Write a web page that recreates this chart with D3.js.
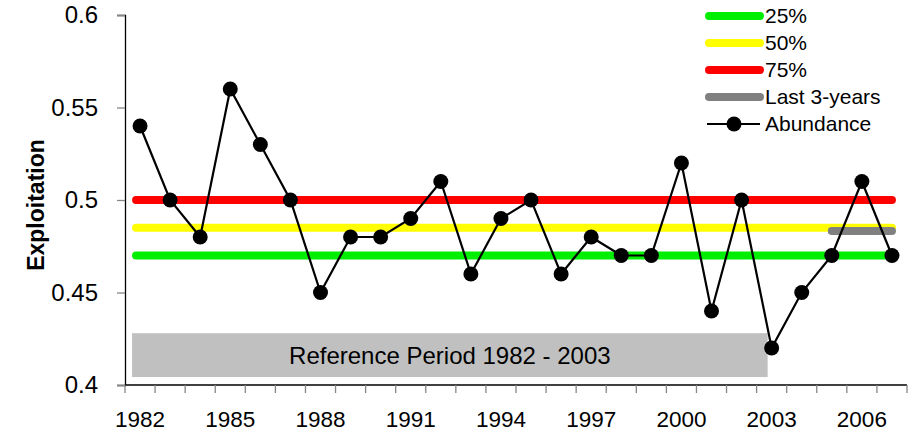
<!DOCTYPE html>
<html>
<head>
<meta charset="utf-8">
<script src="https://cdn.jsdelivr.net/npm/d3@7"></script>
<style>
  body { margin: 0; background: #fff; }
  svg text { font-family: "Liberation Sans", Arial, sans-serif; fill: #000; }
</style>
</head>
<body>
<div id="chart"></div>
<script>
// Data
var years = [1982, 1983, 1984, 1985, 1986, 1987, 1988, 1989, 1990, 1991, 1992, 1993, 1994,
             1995, 1996, 1997, 1998, 1999, 2000, 2001, 2002, 2003, 2004, 2005, 2006, 2007];
var abundance = [0.54, 0.50, 0.48, 0.56, 0.53, 0.50, 0.45, 0.48, 0.48, 0.49, 0.51, 0.46, 0.49,
                 0.50, 0.46, 0.48, 0.47, 0.47, 0.52, 0.44, 0.50, 0.42, 0.45, 0.47, 0.51, 0.47];
var refLevels = [
    {name: '25%', value: 0.47, color: '#00ee00'},
    {name: '50%', value: 0.485, color: '#ffff00'},
    {name: '75%', value: 0.50, color: '#ff0000'}
];
var last3Years = [2005, 2007];
var last3Value = 0.4833;
var yTicks = [0.4, 0.45, 0.5, 0.55, 0.6];
var xLabelYears = [1982, 1985, 1988, 1991, 1994, 1997, 2000, 2003, 2006];
var refPeriod = {label: 'Reference Period 1982 - 2003', from: 1982, to: 2003, top: 0.428, bottom: 0.4043};

var width = 913, height = 433;
var margin = {top: 15, right: 6, bottom: 48, left: 125};

var svg = d3.select('#chart').append('svg')
    .attr('width', width)
    .attr('height', height);

var xScale = d3.scaleBand().domain(years).range([margin.left, width - margin.right]).padding(0);
var yScale = d3.scaleLinear().domain([0.4, 0.6]).range([height - margin.bottom, margin.top]);
var cx = function(yr) { return xScale(yr) + xScale.bandwidth() / 2; };

// Reference period box
svg.append('rect')
    .attr('x', cx(refPeriod.from) - 8)
    .attr('y', yScale(refPeriod.top))
    .attr('width', cx(refPeriod.to) - 4 - (cx(refPeriod.from) - 8))
    .attr('height', yScale(refPeriod.bottom) - yScale(refPeriod.top))
    .attr('fill', '#c0c0c0');

svg.append('text')
    .attr('x', (cx(refPeriod.from) + cx(refPeriod.to)) / 2 - 6)
    .attr('y', (yScale(refPeriod.top) + yScale(refPeriod.bottom)) / 2)
    .attr('dy', '0.35em')
    .attr('text-anchor', 'middle')
    .style('font-size', '24px')
    .text(refPeriod.label);

// Percentile lines
var first = years[0], last = years[years.length - 1];
svg.selectAll('.level')
    .data(refLevels.slice().reverse())
    .enter().append('line')
    .attr('class', 'level')
    .attr('x1', cx(first) - 4)
    .attr('x2', cx(last))
    .attr('y1', function(d) { return yScale(d.value); })
    .attr('y2', function(d) { return yScale(d.value); })
    .attr('stroke', function(d) { return d.color; })
    .attr('stroke-width', 8)
    .attr('stroke-linecap', 'round');

// Last 3 years
svg.append('line')
    .attr('x1', cx(last3Years[0]))
    .attr('x2', cx(last3Years[1]))
    .attr('y1', yScale(last3Value))
    .attr('y2', yScale(last3Value))
    .attr('stroke', '#808080')
    .attr('stroke-width', 8)
    .attr('stroke-linecap', 'round');

// Axes
var yAxis = d3.axisLeft(yScale).tickValues(yTicks).tickFormat(d3.format('')).tickSize(8).tickPadding(19);
var gy = svg.append('g')
    .attr('transform', 'translate(' + margin.left + ',0)')
    .call(yAxis);
gy.select('.domain').attr('stroke', '#000').attr('stroke-width', 1.3);
gy.selectAll('.tick line').attr('stroke', '#868686').attr('stroke-width', 1.3);
gy.selectAll('text').style('font-size', '24px').attr('fill', '#000');

var gx = svg.append('g')
    .attr('transform', 'translate(0,' + (height - margin.bottom) + ')');
gx.append('line')
    .attr('x1', margin.left).attr('x2', width - margin.right)
    .attr('stroke', '#000').attr('stroke-width', 1.3);
gx.selectAll('.xtick')
    .data(years.concat([null]))
    .enter().append('line')
    .attr('class', 'xtick')
    .attr('x1', function(d) { return d === null ? width - margin.right : xScale(d); })
    .attr('x2', function(d) { return d === null ? width - margin.right : xScale(d); })
    .attr('y1', 0).attr('y2', 8)
    .attr('stroke', '#868686').attr('stroke-width', 1.3);
gx.selectAll('.xlabel')
    .data(xLabelYears)
    .enter().append('text')
    .attr('class', 'xlabel')
    .attr('x', function(d) { return cx(d); })
    .attr('y', 42)
    .attr('text-anchor', 'middle')
    .style('font-size', '22.5px')
    .text(function(d) { return d; });

// Y title
svg.append('text')
    .attr('transform', 'translate(44,205) rotate(-90)')
    .attr('text-anchor', 'middle')
    .style('font-size', '23px')
    .style('font-weight', 'bold')
    .text('Exploitation');

// Abundance series
var line = d3.line()
    .x(function(d, i) { return cx(years[i]); })
    .y(function(d) { return yScale(d); });

svg.append('path')
    .datum(abundance)
    .attr('d', line)
    .attr('fill', 'none')
    .attr('stroke', '#000')
    .attr('stroke-width', 2.2);

svg.selectAll('.pt')
    .data(abundance)
    .enter().append('circle')
    .attr('class', 'pt')
    .attr('cx', function(d, i) { return cx(years[i]); })
    .attr('cy', function(d) { return yScale(d); })
    .attr('r', 7.5)
    .attr('fill', '#000');

// Legend
var legendItems = refLevels.map(function(d) { return {name: d.name, color: d.color, type: 'bar'}; })
    .concat([{name: 'Last 3-years', color: '#808080', type: 'bar'},
             {name: 'Abundance', color: '#000', type: 'marker'}]);
var lg = svg.append('g').attr('transform', 'translate(705,16)');
var item = lg.selectAll('.leg')
    .data(legendItems)
    .enter().append('g')
    .attr('class', 'leg')
    .attr('transform', function(d, i) { return 'translate(0,' + (i * 27) + ')'; });

item.filter(function(d) { return d.type === 'bar'; })
    .append('line')
    .attr('x1', 4).attr('x2', 55)
    .attr('stroke', function(d) { return d.color; })
    .attr('stroke-width', 8)
    .attr('stroke-linecap', 'round');

var mk = item.filter(function(d) { return d.type === 'marker'; });
mk.append('line')
    .attr('x1', 2).attr('x2', 55)
    .attr('stroke', '#000').attr('stroke-width', 2.2);
mk.append('circle')
    .attr('cx', 29).attr('r', 7.5).attr('fill', '#000');

item.append('text')
    .attr('x', 60)
    .attr('dy', '0.35em')
    .style('font-size', '21px')
    .text(function(d) { return d.name; });
</script>
</body>
</html>
